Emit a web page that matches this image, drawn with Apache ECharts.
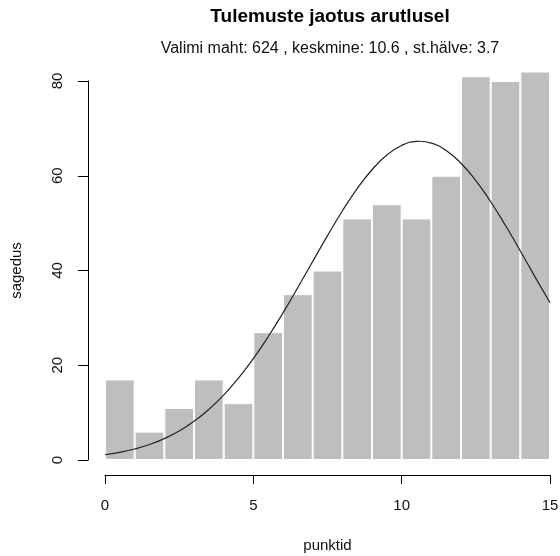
<!DOCTYPE html>
<html>
<head>
<meta charset="utf-8">
<script src="https://cdn.jsdelivr.net/npm/echarts@6/dist/echarts.min.js"></script>
<style>
html,body{margin:0;padding:0;background:#fff;}
#chart{width:560px;height:556px;}
</style>
</head>
<body>
<div id="chart"></div>
<script>
// Histogram bins (left edges 0..14, width 1)
var binLabels = ['0-1','1-2','2-3','3-4','4-5','5-6','6-7','7-8','8-9','9-10','10-11','11-12','12-13','13-14','14-15'];
var counts = [17, 6, 11, 17, 12, 27, 35, 40, 51, 54, 51, 60, 81, 80, 82];
// Normal curve overlay
var curveX = [0,0.5,1,1.5,2,2.5,3,3.5,4,4.5,5,5.5,6,6.5,7,7.5,8,8.5,9,9.5,10,10.5,10.6,11,11.5,12,12.5,13,13.5,14,14.5,15];
var curveY = [1.11,1.62,2.32,3.27,4.52,6.13,8.16,10.68,13.71,17.29,21.40,26.02,31.06,36.41,41.91,47.36,52.56,57.27,61.27,64.37,66.40,67.26,67.28,66.89,65.32,62.63,58.97,54.51,49.49,44.11,38.60,33.18];
var xTicks = [0, 5, 10, 15];
var yTicks = [0, 20, 40, 60, 80];

var FONT = "'Liberation Sans', Arial, sans-serif";
var curveData = curveX.map(function (x, i) { return [x, curveY[i]]; });

var chart = echarts.init(document.getElementById('chart'), null, {renderer: 'canvas'});
chart.setOption({
  animation: false,
  backgroundColor: '#ffffff',
  title: {
    text: 'Tulemuste jaotus arutlusel',
    subtext: 'Valimi maht: 624 , keskmine: 10.6 , st.hälve: 3.7',
    left: 330,
    top: 7,
    padding: 0,
    textAlign: 'center',
    itemGap: 15,
    textStyle: {fontFamily: FONT, fontSize: 19, fontWeight: 'bold', color: '#000'},
    subtextStyle: {fontFamily: FONT, fontSize: 16, color: '#111'}
  },
  grid: {left: 105, right: 10, top: 81, bottom: 96, containLabel: false, outerBoundsMode: 'none'},
  xAxis: [{
    type: 'value',
    min: xTicks[0],
    max: xTicks[xTicks.length - 1],
    interval: 5,
    offset: 15,
    splitLine: {show: false},
    axisLine: {show: true, onZero: false, lineStyle: {color: '#000', width: 1}},
    axisTick: {show: true, inside: false, length: 9, lineStyle: {color: '#000'}},
    axisLabel: {margin: 23.5, fontFamily: FONT, fontSize: 15, color: '#111'},
    name: 'punktid',
    nameLocation: 'middle',
    nameGap: 63.5,
    nameTextStyle: {fontFamily: FONT, fontSize: 15, color: '#111'}
  }, {
    type: 'category',
    data: binLabels,
    boundaryGap: true,
    show: false
  }],
  yAxis: {
    type: 'value',
    min: yTicks[0],
    max: yTicks[yTicks.length - 1],
    interval: 20,
    offset: 17,
    splitLine: {show: false},
    axisLine: {show: true, onZero: false, lineStyle: {color: '#000', width: 1}},
    axisTick: {show: true, inside: false, length: 10, lineStyle: {color: '#000'}},
    axisLabel: {rotate: 90, margin: 22.5, fontFamily: FONT, fontSize: 15, color: '#111'},
    name: 'sagedus',
    nameLocation: 'middle',
    nameGap: 63.5,
    nameTextStyle: {fontFamily: FONT, fontSize: 15, color: '#111'}
  },
  series: [{
    type: 'bar',
    xAxisIndex: 1,
    yAxisIndex: 0,
    data: counts,
    barCategoryGap: '0%',
    clip: false,
    itemStyle: {color: '#bebebe', borderColor: '#ffffff', borderWidth: 1}
  }, {
    type: 'line',
    xAxisIndex: 0,
    yAxisIndex: 0,
    data: curveData,
    smooth: true,
    showSymbol: false,
    symbol: 'none',
    clip: false,
    lineStyle: {color: '#222', width: 1.2}
  }]
});
</script>
</body>
</html>
